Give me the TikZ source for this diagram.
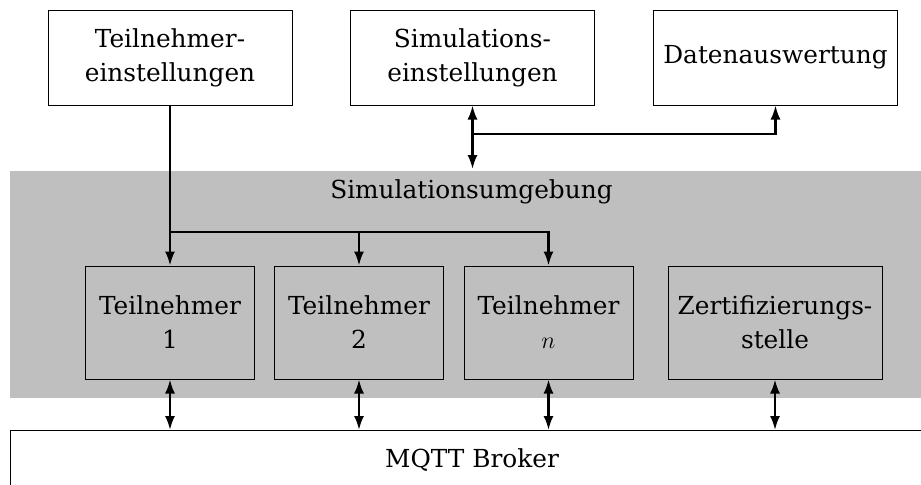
\documentclass[tikz,border=0pt]{standalone}
\usepackage{fontspec}
\setmainfont{DejaVu Serif}
\usetikzlibrary{arrows.meta,positioning,calc}
\tikzset{
  block/.style={draw, line width=0.5pt, align=center, minimum width=122pt, minimum height=47.5pt},
  partbox/.style={block, minimum width=84.5pt, minimum height=56.5pt},
  flowln/.style={-{Latex[length=7pt,width=5pt]}, line width=1.1pt},
  bothln/.style={{Latex[length=7pt,width=5pt]}-{Latex[length=7pt,width=5pt]}, line width=1.1pt},
}

\begin{document}
\begin{tikzpicture}[x=0.5pt, y=-0.5pt, font=\fontsize{12.4}{17}\selectfont]
        \useasboundingbox (0,0) rectangle (921,484);
        \clip (0,0) rectangle (921,484);
        % grey environment behind the participants
        \fill[gray!50] (10,171) rectangle (933,398);
        \node (umgebung) at (471.5,192) {Simulationsumgebung};
        % settings and evaluation on top
        \node[block] (teilein) at (170,57.5) {Teilnehmer-\\einstellungen};
        \node[block] (simein) at (472.5,57.5) {Simulations-\\einstellungen};
        \node[block] (auswert) at (775.5,57.5) {Datenauswertung};
        % participants and certification authority
        \node[partbox] (tn1) at (170,322.5) {Teilnehmer\\1};
        \node[partbox] (tn2) at (359,322.5) {Teilnehmer\\2};
        \node[partbox] (tnn) at (548.5,322.5) {Teilnehmer\\$n$};
        \node[partbox, minimum width=107pt] (zert) at (775,322.5) {Zertifizierungs-\\stelle};
        \node[block, anchor=north west, minimum width=461.5pt, minimum height=30pt]
          (broker) at (10,430) {MQTT Broker};
        % participant settings branch out to every participant
        \coordinate (knick) at (teilein.south |- 0,232);
        \draw[flowln] (teilein.south) -- (tn1.north);
        \draw[flowln] (knick) -| (tn2.north);
        \draw[flowln] (knick) -| (tnn.north);
        % simulation settings <-> environment, results to evaluation
        \coordinate (simziel) at (simein.south |- 0,169);
        \coordinate (simknick) at (simein.south |- 0,134);
        \draw[bothln] (simein.south) -- (simziel);
        \draw[flowln] (simknick) -| (auswert.south);
        % everything talks to the broker
        \foreach \t in {tn1,tn2,tnn,zert}
          \draw[bothln] (\t.south) -- (\t.south |- broker.north);
      \end{tikzpicture}
\end{document}
